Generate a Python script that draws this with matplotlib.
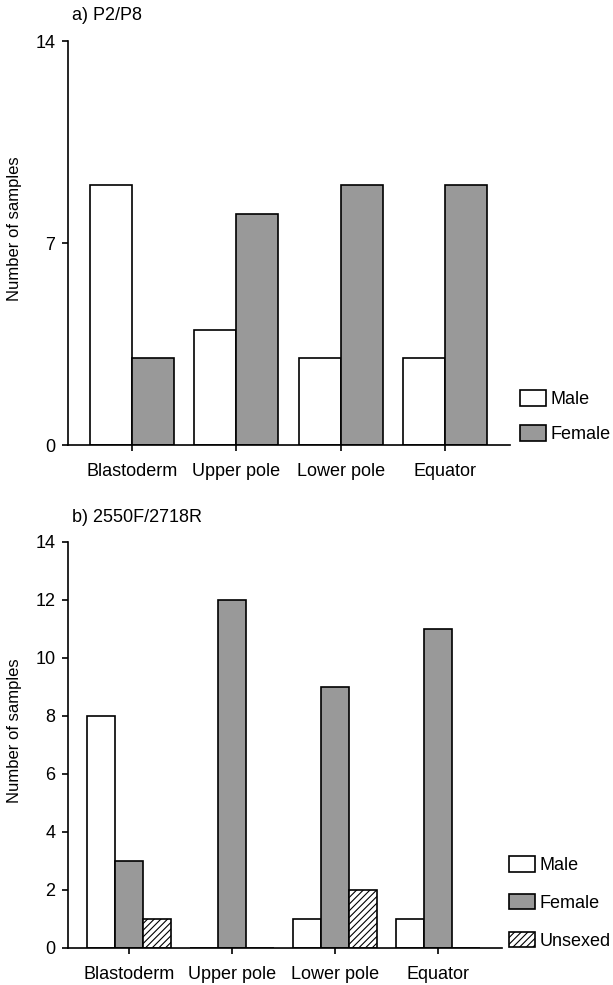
import matplotlib.pyplot as plt
import numpy as np

plt.rcParams['font.family'] = ['Liberation Sans', 'DejaVu Sans']
plt.rcParams['hatch.linewidth'] = 0.8

categories = ['Blastoderm', 'Upper pole', 'Lower pole', 'Equator']

# a) P2/P8
male_a = [9, 4, 3, 3]
female_a = [3, 8, 9, 9]

# b) 2550F/2718R
male_b = [8, 0, 1, 1]
female_b = [3, 12, 9, 11]
unsexed_b = [1, 0, 2, 0]

W, H = 613, 985
fig = plt.figure(figsize=(W / 100, H / 100), dpi=100)

gray = '#999999'
lw = 1.2


def style(ax, yticks, xlim, width_px, height_px):
    ax.spines['top'].set_visible(False)
    ax.spines['right'].set_visible(False)
    for s in ('left', 'bottom'):
        ax.spines[s].set_linewidth(lw)
    ax.set_xticks(np.arange(len(categories)))
    ax.set_xticklabels(categories, fontsize=13)
    ax.set_yticks(yticks)
    ax.tick_params(axis='y', labelsize=13, length=4, width=lw, pad=5)
    ax.tick_params(axis='x', length=4, width=lw, pad=9)
    ax.set_ylim(0, 14)
    ax.set_xlim(*xlim)
    ax.set_ylabel('Number of samples', fontsize=12, va='center')
    ax.yaxis.set_label_coords(-53 / width_px, 0.5 + 14 / height_px)


def legend(ax, x_px, y_px, spacing):
    ax.legend(loc='upper left', bbox_to_anchor=(x_px / W, 1 - y_px / H),
              bbox_transform=fig.transFigure, frameon=False, fontsize=13,
              borderpad=0, borderaxespad=0, handlelength=1.45, handleheight=0.95,
              handletextpad=0.25, labelspacing=spacing)


x = np.arange(len(categories))

# panel a
ax1 = fig.add_axes([68 / W, 1 - 445 / H, (510 - 68) / W, (445 - 41) / H])
w = 0.4
ax1.bar(x - w / 2, male_a, w, color='white', edgecolor='black', linewidth=lw, label='Male')
ax1.bar(x + w / 2, female_a, w, color=gray, edgecolor='black', linewidth=lw, label='Female')
style(ax1, [0, 7, 14], (-0.61, 3.62), 510 - 68, 445 - 41)
legend(ax1, 520, 390, 0.95)
fig.text(72 / W, 1 - 15 / H, 'a) P2/P8', fontsize=13, va='center', ha='left')

# panel b
ax2 = fig.add_axes([68 / W, 1 - 948 / H, (502 - 68) / W, (948 - 542) / H])
w = 0.27
ax2.bar(x - w, male_b, w, color='white', edgecolor='black', linewidth=lw, label='Male')
ax2.bar(x, female_b, w, color=gray, edgecolor='black', linewidth=lw, label='Female')
ax2.bar(x + w, unsexed_b, w, color='white', edgecolor='black', linewidth=lw,
        hatch='/////', label='Unsexed')
style(ax2, np.arange(0, 15, 2), (-0.59, 3.62), 502 - 68, 948 - 542)
legend(ax2, 509, 856, 1.1)
fig.text(72 / W, 1 - 517 / H, 'b) 2550F/2718R', fontsize=13, va='center', ha='left')

fig.savefig('out.png', dpi=100)
